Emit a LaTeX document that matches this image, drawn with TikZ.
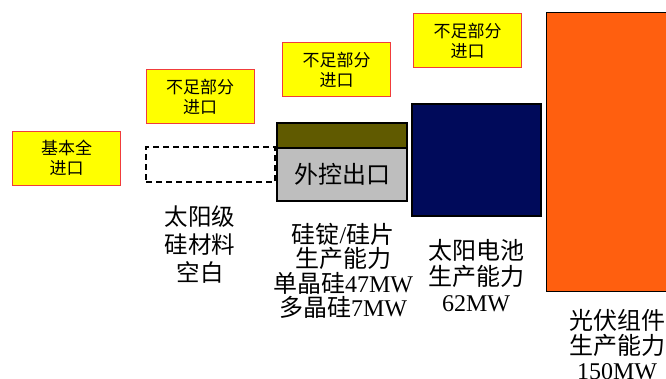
\documentclass[tikz,border=0pt]{standalone}
\usepackage{fontspec}
\setmainfont{Liberation Serif}
\newfontfamily\cjk{Noto Sans CJK SC}
\definecolor{tagred}{RGB}{240,60,60}
\definecolor{tagyel}{RGB}{255,255,0}
\definecolor{olivetop}{RGB}{96,90,0}
\definecolor{graybox}{RGB}{190,190,190}
\definecolor{navybox}{RGB}{0,10,90}
\definecolor{orangebox}{RGB}{255,95,15}
\begin{document}
\begin{tikzpicture}[x=1pt,y=-1pt,
  tag/.style={draw=tagred, fill=tagyel, line width=1pt, minimum width=108pt, minimum height=54pt,
    inner sep=0pt, align=center, font=\cjk\fontsize{17}{20}\selectfont},
  bar/.style={draw=black, line width=1.2pt, inner sep=0pt},
  big/.style={align=center, inner sep=0pt},
]
\useasboundingbox (0,0) rectangle (666,378);
% yellow tags
\node[tag] (t1) at (66.5,158) {基本全\\进口};
\node[tag] (t2) at (200,96.5) {不足部分\\进口};
\node[tag] (t3) at (336.5,69.5) {不足部分\\进口};
\node[tag] (t4) at (467.5,40.5) {不足部分\\进口};
% bars
\node[draw=black, line width=1.4pt, dash pattern=on 6pt off 4pt, minimum width=129pt, minimum height=35pt, inner sep=0pt] (sol) at (210.5,164.5) {};
\node[bar, fill=olivetop, minimum width=130pt, minimum height=25pt] (ol) at (342,135.5) {};
\node[bar, fill=graybox, minimum width=130pt, minimum height=53pt, font=\cjk\fontsize{24}{26}\selectfont] (gr) at (342,174.5) {外控出口};
\node[bar, fill=navybox, minimum width=129pt, minimum height=112pt] (cell) at (476.5,160) {};
\node[bar, fill=orangebox, line width=1pt, minimum width=130pt, minimum height=279pt] (mod) at (611,151.5) {};
% labels
\node[big, font=\cjk\fontsize{23.5}{28}\selectfont] (l1) at (200,245) {太阳级\\硅材料\\空白};
\node[big, font=\fontsize{24}{24.5}\selectfont] (l2) at (343,271) {{\cjk 硅锭}/{\cjk 硅片}\\{\cjk 生产能力}\\{\cjk 单晶硅}47MW\\{\cjk 多晶硅}7MW};
\node[big, font=\fontsize{24}{26}\selectfont] (l3) at (476,276) {{\cjk 太阳电池}\\{\cjk 生产能力}\\62MW};
\node[big, font=\fontsize{24}{25}\selectfont] (l4) at (617,345) {{\cjk 光伏组件}\\{\cjk 生产能力}\\150MW};
\end{tikzpicture}
\end{document}
